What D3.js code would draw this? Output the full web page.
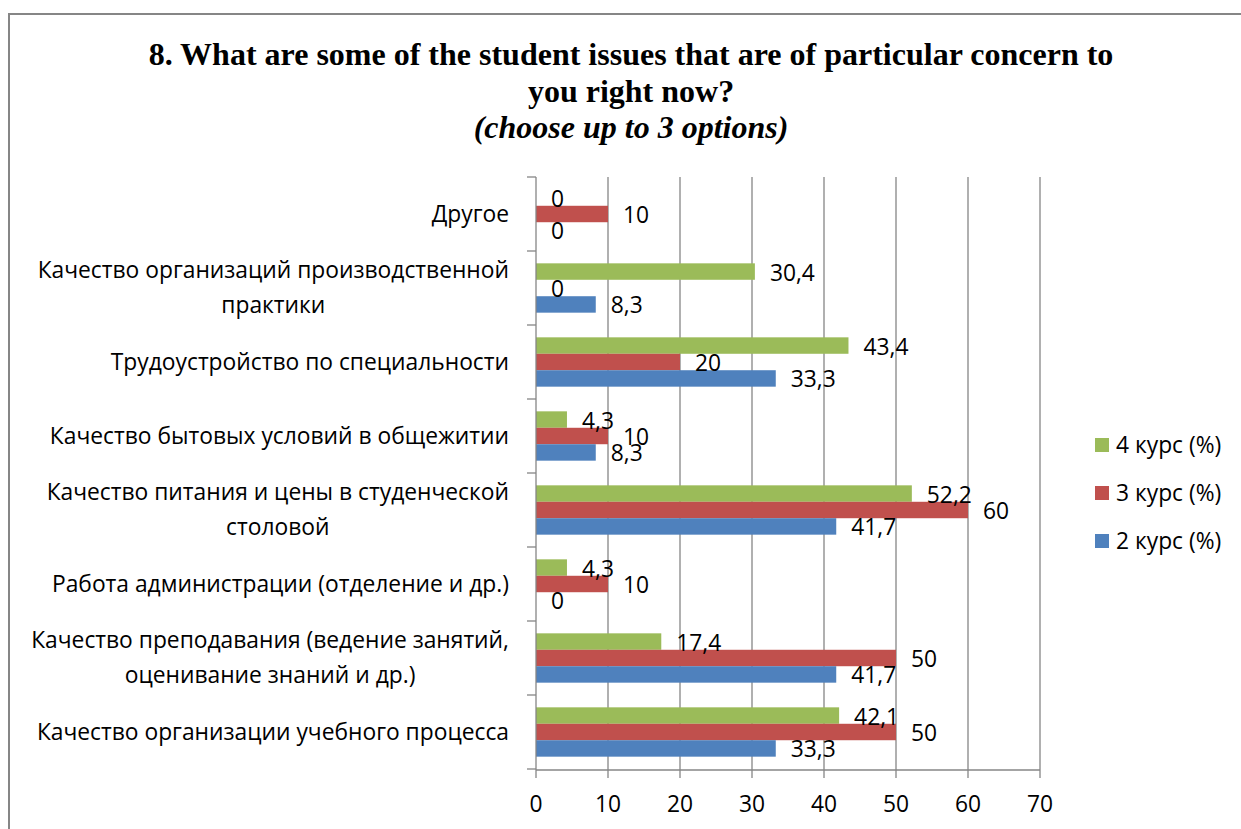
<!DOCTYPE html>
<html>
<head>
<meta charset="utf-8">
<script src="https://cdn.jsdelivr.net/npm/d3@7/dist/d3.min.js"></script>
<style>
  html, body { margin: 0; padding: 0; background: #fff; }
  svg { display: block; }
</style>
</head>
<body>
<svg id="chart" width="1241" height="829"></svg>
<script>
// ---- Data ----
const categories = [
  "Другое",
  "Качество организаций производственной\nпрактики",
  "Трудоустройство по специальности",
  "Качество бытовых условий в общежитии",
  "Качество питания и цены в студенческой\nстоловой",
  "Работа администрации (отделение и др.)",
  "Качество преподавания (ведение занятий,\nоценивание знаний и др.)",
  "Качество организации учебного процесса"
];
const seriesNames = ["4 курс (%)", "3 курс (%)", "2 курс (%)"];
const course4 = [0, 30.4, 43.4, 4.3, 52.2, 4.3, 17.4, 42.1];
const course3 = [10, 0, 20, 10, 60, 10, 50, 50];
const course2 = [0, 8.3, 33.3, 8.3, 41.7, 0, 41.7, 33.3];
const seriesColors = ["#9BBB59", "#C0504D", "#4F81BD"];
const xTicks = [0, 10, 20, 30, 40, 50, 60, 70];
const titleLines = ["8. What are some of the student issues that are of particular concern to", "you right now?"];
const subtitle = "(choose up to 3 options)";

const seriesValues = [course4, course3, course2];
const fmt = v => String(v).replace(".", ",");

const svg = d3.select("#chart");
const FONT = "'Open Sans', 'Noto Sans', sans-serif";

// fit body font size so the longest category line is ~471px wide (as in reference)
const probe = svg.append("text").attr("font-family", FONT).attr("font-size", 20)
  .text("Качество организаций производственной");
const FS = Math.round(20 * 471 / probe.node().getComputedTextLength() * 10) / 10;
probe.remove();

// outer frame
svg.append("rect").attr("x", 9).attr("y", 14).attr("width", 1250).attr("height", 840)
  .attr("fill", "none").attr("stroke", "#868686").attr("stroke-width", 2);

// title
const title = svg.append("g").attr("font-family", "'Liberation Serif', 'Times New Roman', serif")
  .attr("font-weight", "bold").attr("font-size", 32).attr("text-anchor", "middle");
titleLines.forEach((t, i) => {
  title.append("text").attr("x", 631).attr("y", 65 + i * 37).text(t);
});
title.append("text").attr("x", 631).attr("y", 138).attr("font-style", "italic").text(subtitle);

// scales
const x = d3.scaleLinear().domain([0, 70]).range([536, 1040]);
const y = d3.scaleBand().domain(categories).range([177, 769]).paddingInner(0).paddingOuter(0);
const ySub = d3.scaleBand().domain(seriesNames).range([0, y.bandwidth()]).paddingInner(0).paddingOuter(0.75);

// gridlines
svg.append("g").selectAll("line").data(xTicks.slice(1)).join("line")
  .attr("x1", d => x(d)).attr("x2", d => x(d))
  .attr("y1", 177).attr("y2", 770)
  .attr("stroke", "#868686").attr("stroke-width", 1.3);

// bars
const groups = svg.append("g").selectAll("g").data(categories).join("g")
  .attr("transform", d => `translate(0,${y(d)})`);

groups.each(function(cat, ci) {
  const g = d3.select(this);
  seriesNames.forEach((s, si) => {
    const v = seriesValues[si][ci];
    g.append("rect")
      .attr("x", x(0)).attr("y", ySub(s))
      .attr("width", x(v) - x(0)).attr("height", ySub.bandwidth())
      .attr("fill", seriesColors[si]);
  });
});
// data labels
groups.each(function(cat, ci) {
  const g = d3.select(this);
  seriesNames.forEach((s, si) => {
    const v = seriesValues[si][ci];
    g.append("text")
      .attr("x", x(v) + 15).attr("y", ySub(s) + ySub.bandwidth() / 2 + 1)
      .attr("dy", "0.35em")
      .attr("font-family", FONT).attr("font-size", FS).attr("fill", "#000")
      .text(fmt(v));
  });
});

// y axis
const yAx = svg.append("g").attr("transform", `translate(536,0)`);
yAx.append("line").attr("x1", 0).attr("x2", 0).attr("y1", 177).attr("y2", 770)
  .attr("stroke", "#868686").attr("stroke-width", 1.3);
const bounds = categories.map(c => y(c)).concat([y.range()[1]]);
yAx.selectAll("line.t").data(bounds).join("line").attr("class", "t")
  .attr("x1", -9).attr("x2", 0).attr("y1", d => d).attr("y2", d => d)
  .attr("stroke", "#868686").attr("stroke-width", 1.3);

// category labels
const catG = svg.append("g").attr("font-family", FONT).attr("font-size", FS).attr("fill", "#000");
categories.forEach(c => {
  const lines = c.split("\n");
  const cy = y(c) + y.bandwidth() / 2;
  const lh = 35;
  const t = catG.append("text").attr("text-anchor", "middle");
  lines.forEach((ln, i) => {
    t.append("tspan").attr("y", cy + (i - (lines.length - 1) / 2) * lh).attr("dy", "0.35em").text(ln);
  });
  const widths = [];
  t.selectAll("tspan").each(function() { widths.push(this.getComputedTextLength()); });
  const w = d3.max(widths);
  t.selectAll("tspan").attr("x", 509 - w / 2);
});

// x axis
const xAx = svg.append("g").attr("transform", `translate(0,770)`);
xAx.append("line").attr("x1", 536).attr("x2", 1040).attr("y1", 0).attr("y2", 0)
  .attr("stroke", "#868686").attr("stroke-width", 1.3);
xAx.selectAll("line.t").data(xTicks).join("line").attr("class", "t")
  .attr("x1", d => x(d)).attr("x2", d => x(d)).attr("y1", 0).attr("y2", 8)
  .attr("stroke", "#868686").attr("stroke-width", 1.3);
xAx.selectAll("text").data(xTicks).join("text")
  .attr("x", d => x(d)).attr("y", 34).attr("dy", "0.35em").attr("text-anchor", "middle")
  .attr("font-family", FONT).attr("font-size", FS).text(d => d);

// legend
const leg = svg.append("g").attr("font-family", FONT).attr("font-size", FS);
seriesNames.forEach((s, i) => {
  const ly = 445 + i * 48;
  leg.append("rect").attr("x", 1095).attr("y", ly - 7).attr("width", 14).attr("height", 14).attr("fill", seriesColors[i]);
  leg.append("text").attr("x", 1116).attr("y", ly).attr("dy", "0.35em").text(s);
});
</script>
</body>
</html>
